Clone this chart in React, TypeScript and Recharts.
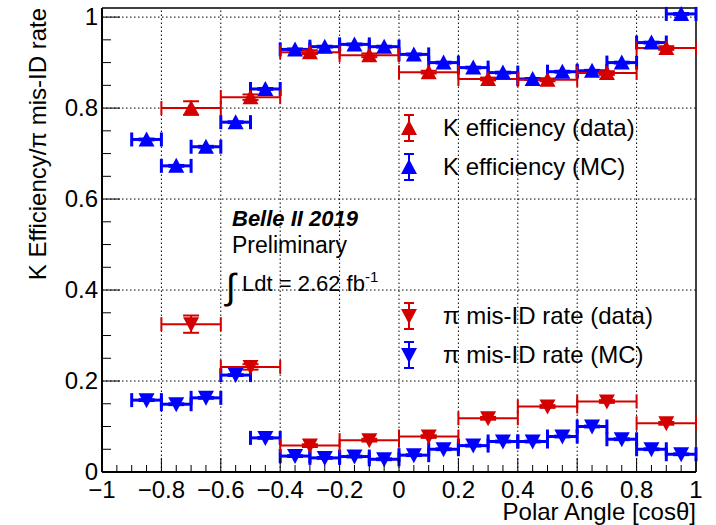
import React from "react";
import { ComposedChart, Scatter, XAxis, YAxis, ErrorBar, ReferenceLine } from "recharts";

// bin centres
const dataBins = [-0.7, -0.5, -0.3, -0.1, 0.1, 0.3, 0.5, 0.7, 0.9];
const mcBins = [-0.85, -0.75, -0.65, -0.55, -0.45, -0.35, -0.25, -0.15, -0.05, 0.05, 0.15, 0.25, 0.35, 0.45, 0.55, 0.65, 0.75, 0.85, 0.95];

const kEffData = [0.8, 0.824, 0.923, 0.916, 0.879, 0.864, 0.862, 0.877, 0.932];
const kEffDataErr = [0.015, 0.006, 0.004, 0.004, 0.003, 0.003, 0.003, 0.004, 0.004];
const kEffMC = [0.731, 0.673, 0.715, 0.769, 0.842, 0.929, 0.935, 0.94, 0.935, 0.918, 0.9, 0.889, 0.878, 0.864, 0.88, 0.882, 0.9, 0.944, 1.007];

const piData = [0.325, 0.231, 0.058, 0.07, 0.078, 0.118, 0.144, 0.155, 0.107];
const piDataErr = [0.019, 0.006, 0.003, 0.003, 0.003, 0.003, 0.003, 0.003, 0.003];
const piMC = [0.158, 0.149, 0.163, 0.213, 0.075, 0.035, 0.031, 0.034, 0.028, 0.037, 0.05, 0.058, 0.067, 0.067, 0.078, 0.1, 0.072, 0.05, 0.039];

const xMajor = [-1, -0.8, -0.6, -0.4, -0.2, 0, 0.2, 0.4, 0.6, 0.8, 1];
const yMajor = [0, 0.2, 0.4, 0.6, 0.8, 1];

const RED = "#d40000";
const BLUE = "#0000ff";
const FONT = "'Liberation Sans', Arial, Helvetica, sans-serif";

const subdivide = (major: number[], n: number) => {
  const out: number[] = [];
  for (let i = 0; i < major.length - 1; i++) {
    for (let k = 0; k < n; k++) out.push(+(major[i] + ((major[i + 1] - major[i]) * k) / n).toFixed(4));
  }
  out.push(major[major.length - 1]);
  return out;
};
const xTicks = subdivide(xMajor, 4);
const yTicks = subdivide(yMajor, 4);
const isMajor = (v: number) => Math.abs(v * 5 - Math.round(v * 5)) < 1e-6;
const fmt = (v: number) => (v < 0 ? "\u2212" + String(-v) : String(v));

const rows = (xs: number[], ys: number[], half: number, errs?: number[]) =>
  xs.map((x, i) => ({ x, y: ys[i], xerr: half, yerr: errs ? errs[i] : 0.002 }));

const Tri = ({ cx, cy, up, color }: any) => {
  if (cx == null || cy == null) return null;
  const pts = up
    ? `${cx},${cy - 8} ${cx - 8},${cy + 7} ${cx + 8},${cy + 7}`
    : `${cx},${cy + 8} ${cx - 8},${cy - 7} ${cx + 8},${cy - 7}`;
  return <polygon points={pts} fill={color} />;
};

const XTick = ({ x, y, payload }: any) => {
  const v = payload.value;
  const major = isMajor(v);
  return (
    <g>
      <line x1={x} x2={x} y1={y} y2={y - (major ? 14 : 7)} stroke="#000" strokeWidth={1} />
      {major && (
        <text x={x} y={y + 26} textAnchor="middle" fontSize={24} fontFamily={FONT} fill="#000">
          {fmt(v)}
        </text>
      )}
    </g>
  );
};

const YTick = ({ x, y, payload }: any) => {
  const v = payload.value;
  const major = isMajor(v);
  return (
    <g>
      <line x1={x} x2={x + (major ? 18 : 9)} y1={y} y2={y} stroke="#000" strokeWidth={1} />
      {major && (
        <text x={x - 4} y={y + 8} textAnchor="end" fontSize={24} fontFamily={FONT} fill="#000">
          {fmt(v)}
        </text>
      )}
    </g>
  );
};

const legendItems = [
  { name: "K efficiency (data)", color: RED, up: true, y: 128 },
  { name: "K efficiency (MC)", color: BLUE, up: true, y: 167 },
  { name: "\u03c0 mis-ID rate (data)", color: RED, up: false, y: 316 },
  { name: "\u03c0 mis-ID rate (MC)", color: BLUE, up: false, y: 355 },
];

const Overlay = () => (
  <svg width={716} height={525} style={{ position: "absolute", left: 0, top: 0, pointerEvents: "none" }}>
    {legendItems.map((it) => (
      <g key={it.name}>
        <line x1={409} x2={409} y1={it.y - 13} y2={it.y + 13} stroke={it.color} strokeWidth={2} />
        <line x1={404} x2={414} y1={it.y - 13} y2={it.y - 13} stroke={it.color} strokeWidth={2} />
        <line x1={404} x2={414} y1={it.y + 13} y2={it.y + 13} stroke={it.color} strokeWidth={2} />
        <Tri cx={409} cy={it.y} up={it.up} color={it.color} />
        <text x={443} y={it.y + 8} fontSize={24} fontFamily={FONT} fill="#000">
          {it.name}
        </text>
      </g>
    ))}
    <text x={232} y={226} fontSize={22} fontWeight="bold" fontStyle="italic" fontFamily={FONT}>
      Belle II 2019
    </text>
    <text x={232} y={253} fontSize={23} fontFamily={FONT}>
      Preliminary
    </text>
    <text x={226} y={299} fontSize={36} fontFamily={FONT}>
      {"\u222b"}
    </text>
    <text x={242} y={291} fontSize={22} fontFamily={FONT}>
      Ldt = 2.62 fb
      <tspan dy={-9} fontSize={15}>
        -1
      </tspan>
    </text>
    <text x={696} y={520} textAnchor="end" fontSize={24} fontFamily={FONT}>
      Polar Angle [cos{"\u03b8"}]
    </text>
    <text transform="translate(46,8) rotate(-90)" textAnchor="end" fontSize={24} fontFamily={FONT}>
      K Efficiency/{"\u03c0"} mis-ID rate
    </text>
  </svg>
);

export default function App() {
  const series = [
    { key: "kmc", rows: rows(mcBins, kEffMC, 0.05), color: BLUE, up: true, w: 3 },
    { key: "pimc", rows: rows(mcBins, piMC, 0.05), color: BLUE, up: false, w: 3 },
    { key: "kdata", rows: rows(dataBins, kEffData, 0.1, kEffDataErr), color: RED, up: true, w: 2 },
    { key: "pidata", rows: rows(dataBins, piData, 0.1, piDataErr), color: RED, up: false, w: 2 },
  ];
  return (
    <div style={{ position: "fixed", left: 0, top: 0, width: 716, height: 525, background: "#fff" }}>
      <ComposedChart width={716} height={525} margin={{ top: 8, right: 20, bottom: 0, left: 0 }}>
        <XAxis
          type="number"
          dataKey="x"
          domain={[-1, 1]}
          ticks={xTicks}
          interval={0}
          tickSize={0}
          tickMargin={0}
          tickLine={false}
          tick={<XTick />}
          height={53}
          axisLine={{ stroke: "#000", strokeWidth: 2 }}
        />
        <YAxis
          type="number"
          dataKey="y"
          domain={[0, 1.02]}
          ticks={yTicks}
          interval={0}
          tickSize={0}
          tickMargin={0}
          tickLine={false}
          tick={<YTick />}
          width={102}
          axisLine={{ stroke: "#000", strokeWidth: 2 }}
        />
        {xMajor.slice(1, -1).map((v) => (
          <ReferenceLine key={"gx" + v} x={v} stroke="#000" strokeWidth={1} strokeDasharray="1.5 2.5" />
        ))}
        {yMajor.slice(1).map((v) => (
          <ReferenceLine key={"gy" + v} y={v} stroke="#000" strokeWidth={1} strokeDasharray="1.5 2.5" />
        ))}
        <ReferenceLine x={1} stroke="#000" strokeWidth={1.5} />
        <ReferenceLine y={1.02} stroke="#000" strokeWidth={1.5} />
        {series.map((s) => (
          <Scatter
            key={s.key}
            data={s.rows}
            isAnimationActive={false}
            shape={(p: any) => <Tri cx={p.cx} cy={p.cy} up={s.up} color={s.color} />}
          >
            <ErrorBar dataKey="xerr" direction="x" width={7} stroke={s.color} strokeWidth={s.w} />
            <ErrorBar dataKey="yerr" direction="y" width={8} stroke={s.color} strokeWidth={2} />
          </Scatter>
        ))}
      </ComposedChart>
      <Overlay />
    </div>
  );
}
